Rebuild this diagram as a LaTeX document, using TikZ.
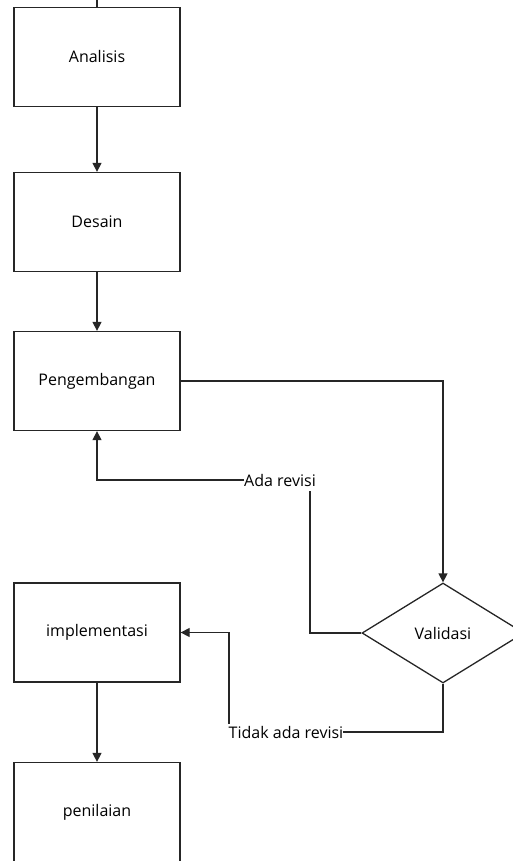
\documentclass[tikz,border=0pt]{standalone}
\usepackage{fontspec}
\setmainfont{Open Sans}
\usetikzlibrary{shapes.geometric,arrows.meta}
\begin{document}
\begin{tikzpicture}[x=1pt,y=-1pt,
  box/.style={draw=black!85,line width=1.3pt,minimum width=166pt,minimum height=99pt,inner sep=0pt,font=\fontsize{16}{18}\selectfont},
  dec/.style={draw=black!85,line width=1.3pt,diamond,minimum width=162pt,minimum height=100pt,inner sep=0pt,font=\fontsize{16}{18}\selectfont},
  lbl/.style={inner sep=0pt,font=\fontsize{16}{18}\selectfont},
  conn/.style={draw=black!85,line width=1.3pt},
  arr/.style={conn,-{Triangle[length=9pt,width=9pt]}}]
\useasboundingbox (0,0) rectangle (513,861);
\node[box] (a) at (97,57) {Analisis};
\node[box] (d) at (97,222) {Desain};
\node[box] (p) at (97,381) {Pengembangan};
\node[box] (i) at (97,632.5) {implementasi};
\node[box] (n) at (97,812) {penilaian};
\node[dec] (v) at (443,633) {Validasi};
\node[lbl] (ada) at (280,480) {Ada revisi};
\node[lbl] (tdk) at (286,732) {Tidak ada revisi};
\coordinate (top) at (97,0);
\coordinate (c1) at (310,491);
\coordinate (c2) at (229,724);
\draw[conn] (top) -- (a.north);
\draw[arr] (a.south) -- (d.north);
\draw[arr] (d.south) -- (p.north);
\draw[arr] (p.east) -| (v.north);
\draw[conn] (v.west) -| (c1);
\draw[arr] (ada.west) -| (p.south);
\draw[conn] (v.south) |- (tdk.east);
\draw[arr] (c2) |- (i.east);
\draw[arr] (i.south) -- (n.north);
\end{tikzpicture}
\end{document}
